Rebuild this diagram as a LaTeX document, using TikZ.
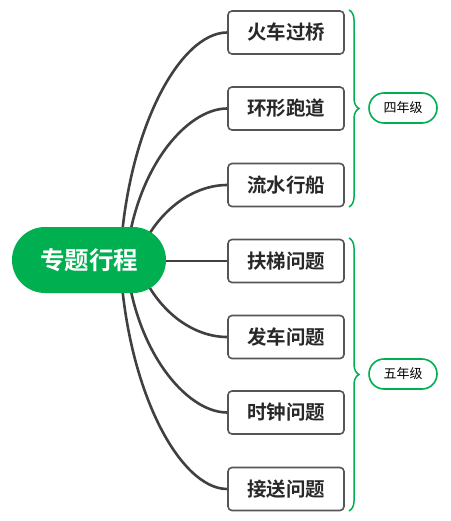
\documentclass[tikz,border=0pt]{standalone}
\usepackage{fontspec}
\newfontfamily\cjk{Noto Sans CJK SC}
\newfontfamily\cjkb{Noto Sans CJK SC Bold}
\usetikzlibrary{decorations.pathreplacing}
\definecolor{mgreen}{RGB}{0,176,80}
\definecolor{lgray}{RGB}{64,64,64}
\definecolor{bgray}{RGB}{85,85,85}
\definecolor{tdark}{RGB}{40,40,40}
\tikzset{
  topic/.style={draw=bgray, line width=1.6pt, fill=white, rounded corners=4pt,
    minimum width=116pt, minimum height=43pt, inner sep=0pt,
    font=\cjkb\fontsize{19.5}{21}\selectfont, text=tdark},
  root/.style={fill=mgreen, rounded corners=33pt, minimum width=154pt, minimum height=66pt,
    inner sep=0pt, font=\cjkb\fontsize{24.5}{27}\selectfont, text=white},
  grade/.style={draw=mgreen, line width=1.6pt, fill=white, rounded corners=15pt,
    minimum width=68pt, minimum height=30pt, inner sep=0pt,
    font=\cjk\fontsize{13}{15}\selectfont, text=black},
  conn/.style={draw=lgray, line width=2.6pt},
  bracestyle/.style={draw=mgreen, line width=1.5pt, decorate,
    decoration={brace, amplitude=10pt}},
}
\begin{document}
\begin{tikzpicture}[x=1pt,y=-1pt]
\useasboundingbox (0,0) rectangle (450,521);
\coordinate (s1) at (120,262);
\coordinate (s2) at (126,262);
\coordinate (s3) at (136,262);
\coordinate (s5) at (136,258);
\coordinate (s6) at (126,258);
\coordinate (s7) at (120,258);
% topics
\node[topic] (t1) at (286,32.5) {火车过桥};
\node[topic] (t2) at (286,108.5) {环形跑道};
\node[topic] (t3) at (286,185) {流水行船};
\node[topic] (t4) at (286,261) {扶梯问题};
\node[topic] (t5) at (286,337) {发车问题};
\node[topic] (t6) at (286,412.5) {时钟问题};
\node[topic] (t7) at (286,489) {接送问题};
% connectors
\draw[conn] (s1) .. controls (126,130) and (180,32.5) .. (t1.west);
\draw[conn] (s2) .. controls (134,170) and (186,108.5) .. (t2.west);
\draw[conn] (s3) .. controls (152,215) and (190,185) .. (t3.west);
\draw[conn] (s5) .. controls (152,307) and (190,337) .. (t5.west);
\draw[conn] (s6) .. controls (134,350) and (186,412.5) .. (t6.west);
\draw[conn] (s7) .. controls (126,390) and (180,489) .. (t7.west);
\node[root] (r) at (89,260) {专题行程};
\draw[conn] (r.east |- t4.west) -- (t4.west);
% braces
\coordinate (b1a) at (349,10);
\coordinate (b1b) at (349,207);
\coordinate (b2a) at (349,238);
\coordinate (b2b) at (349,511);
\draw[bracestyle] (b1a) -- (b1b);
\draw[bracestyle] (b2a) -- (b2b);
\node[grade] (g1) at (403,108) {四年级};
\node[grade] (g2) at (403,374) {五年级};
\end{tikzpicture}
\end{document}
